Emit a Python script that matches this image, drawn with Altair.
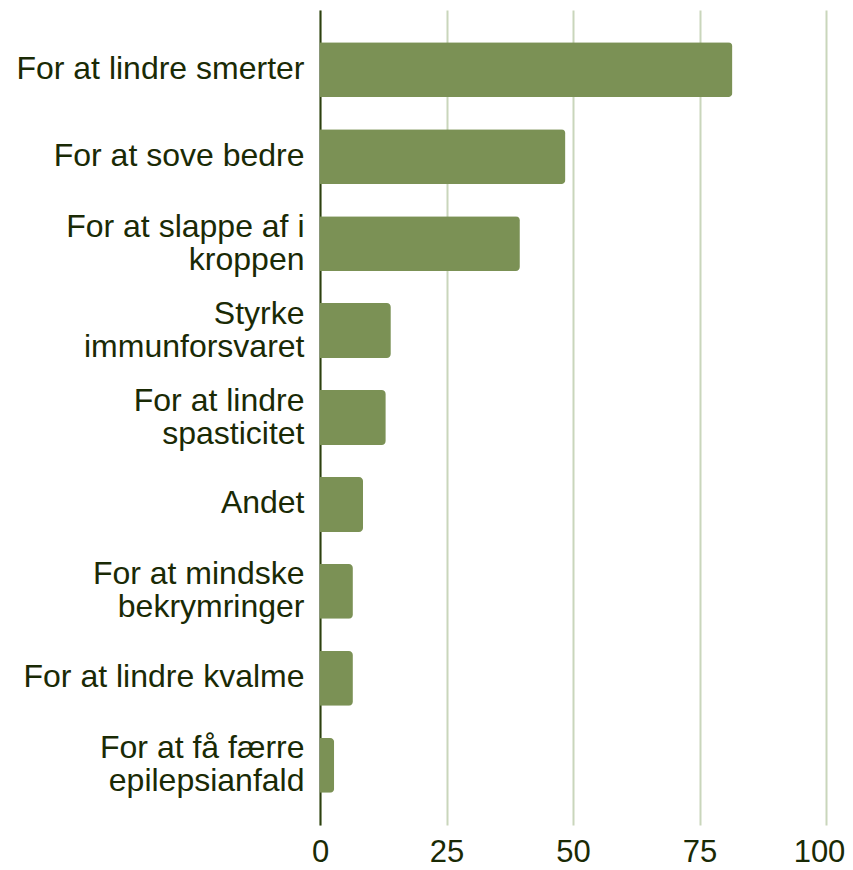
import altair as alt
import pandas as pd

categories = [
    "For at lindre smerter",
    "For at sove bedre",
    "For at slappe af i\nkroppen",
    "Styrke\nimmunforsvaret",
    "For at lindre\nspasticitet",
    "Andet",
    "For at mindske\nbekrymringer",
    "For at lindre kvalme",
    "For at få færre\nepilepsianfald",
]
values = [81.5, 48.5, 39.5, 14, 13, 8.5, 6.5, 6.5, 2.8]
x_ticks = [0, 25, 50, 75, 100]

df = pd.DataFrame({"category": categories, "value": values})

chart = alt.Chart(df).mark_bar(
    color="#7b9155", cornerRadiusEnd=4
).encode(
    x=alt.X("value:Q",
            scale=alt.Scale(domain=[0, 100], nice=False),
            axis=alt.Axis(values=x_ticks, title=None, domain=False, ticks=False,
                          grid=True, gridColor="#c9d6bb", gridWidth=2,
                          labelFontSize=31, labelColor="#1a2a05",
                          labelFont="Liberation Sans", labelPadding=12,
                          labelFlush=False, labelOverlap=False,
                          labelOffset={"condition": {"test": "datum.value == 100",
                                                     "value": -7},
                                       "value": 0})),
    y=alt.Y("category:N", sort=categories,
            scale=alt.Scale(paddingInner=0.37, paddingOuter=0.37),
            axis=alt.Axis(title=None, ticks=False, domain=True,
                          domainColor="#2d4010", domainWidth=2,
                          labelFontSize=32, labelColor="#1a2a05",
                          labelFont="Liberation Sans", labelPadding=16,
                          labelLimit=400, labelLineHeight=33,
                          labelOverlap=False,
                          labelOffset={"condition": {"test": "indexof(datum.value, '\\n') >= 0",
                                                     "value": -17},
                                       "value": -1},
                          labelExpr="split(datum.label, '\\n')")),
).properties(
    width=506, height=815,
    autosize=alt.AutoSizeParams(type="none"),
    padding={"left": 312, "top": 2, "right": 19, "bottom": 44},
).configure(
    background="white",
    view=alt.ViewConfig(stroke=None),
)

chart.save("out.html", embed_options={"renderer": "svg", "actions": False})
